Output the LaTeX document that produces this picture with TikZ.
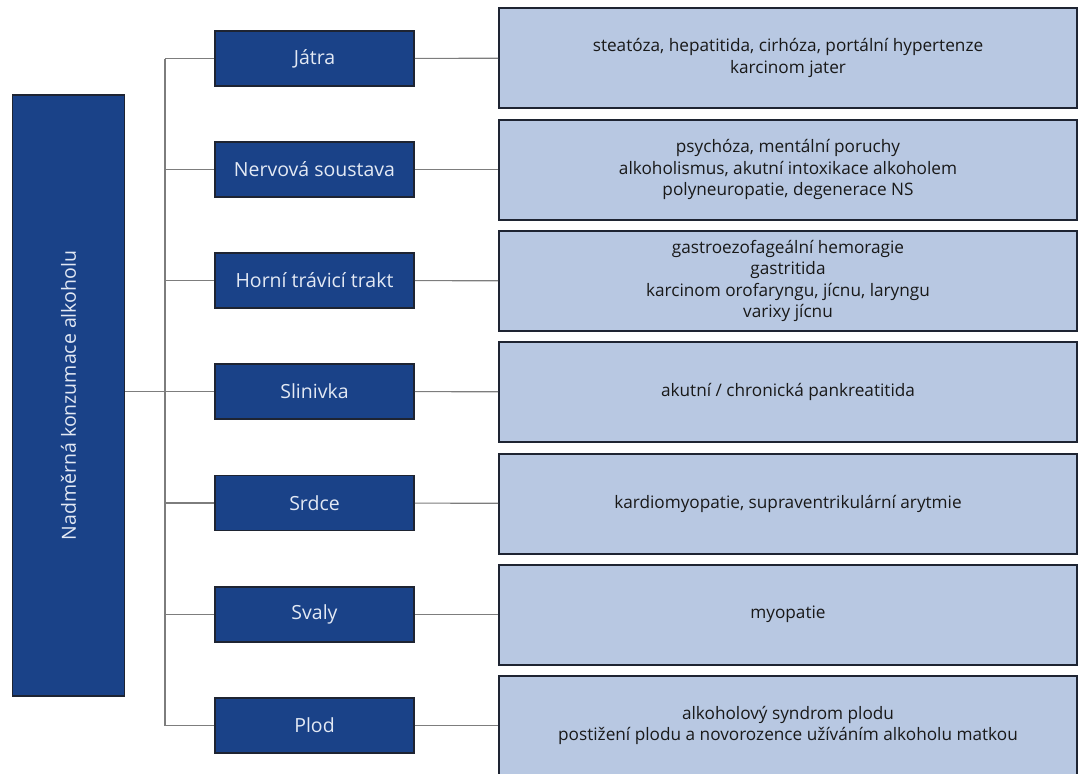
\documentclass[tikz,border=0pt]{standalone}
\usepackage{fontspec}
\setmainfont{Open Sans}
\definecolor{organblue}{RGB}{26,66,136}
\definecolor{illblue}{RGB}{184,200,226}
\definecolor{frame}{RGB}{30,36,50}
\definecolor{wire}{RGB}{125,125,125}
\newcommand{\organ}[3]{\node[organbox] (#1) at (314.5,#2) {#3};}
\newcommand{\ill}[3]{\node[illbox] (#1) at (788,#2) {#3};}

\begin{document}
\begin{tikzpicture}[x=1pt, y=-1pt,
  organbox/.style={draw=frame, line width=1.6pt, fill=organblue, text=illblue!40!white,
    minimum width=199pt, minimum height=55pt, inner sep=0pt, font=\fontsize{19.5}{22}\selectfont},
  illbox/.style={draw=frame, line width=2pt, fill=illblue, text=black!90,
    minimum width=578pt, minimum height=100pt, inner sep=0pt, align=center,
    font=\fontsize{17.2}{21.2}\selectfont},
  wire/.style={draw=wire, line width=1.2pt}]
\useasboundingbox (0,0) rectangle (1080,774);
\node[draw=frame, line width=1.6pt, fill=organblue, text=illblue!40!white, rotate=90,
  minimum width=601pt, minimum height=112pt, inner sep=0pt,
  font=\fontsize{19.5}{22}\selectfont] (root) at (68.5,395.5) {Nadměrná konzumace alkoholu};
\organ{jatra}{58.5}{Játra}
\organ{nerv}{169.5}{Nervová soustava}
\organ{trakt}{280.5}{Horní trávicí trakt}
\organ{slin}{391.5}{Slinivka}
\organ{srdce}{503}{Srdce}
\organ{svaly}{614.5}{Svaly}
\organ{plod}{725.5}{Plod}
\ill{jatraD}{58}{steatóza, hepatitida, cirhóza, portální hypertenze\\karcinom jater}
\ill{nervD}{169.5}{psychóza, mentální poruchy\\alkoholismus, akutní intoxikace alkoholem\\polyneuropatie, degenerace NS}
\ill{traktD}{281}{gastroezofageální hemoragie\\gastritida\\karcinom orofaryngu, jícnu, laryngu\\varixy jícnu}
\ill{slinD}{392}{akutní / chronická pankreatitida}
\ill{srdceD}{503.5}{kardiomyopatie, supraventrikulární arytmie}
\ill{svalyD}{614.5}{myopatie}
\ill{plodD}{725.5}{alkoholový syndrom plodu\\postižení plodu a novorozence užíváním alkoholu matkou}
% trunk
\coordinate (top) at (165,58.5);
\coordinate (bot) at (165,725.5);
\draw[wire] (top) -- (bot);
\draw[wire] (root.south |- slin.west) -- (slin.west -| top);
\draw[wire] (jatra.west) -- (jatra.west -| top);
\draw[wire] (nerv.west) -- (nerv.west -| top);
\draw[wire] (trakt.west) -- (trakt.west -| top);
\draw[wire] (slin.west) -- (slin.west -| top);
\draw[wire] (srdce.west) -- (srdce.west -| top);
\draw[wire] (svaly.west) -- (svaly.west -| top);
\draw[wire] (plod.west) -- (plod.west -| top);
% organ to illness
\draw[wire] (jatra) -- (jatraD);
\draw[wire] (nerv) -- (nervD);
\draw[wire] (trakt) -- (traktD);
\draw[wire] (slin) -- (slinD);
\draw[wire] (srdce) -- (srdceD);
\draw[wire] (svaly) -- (svalyD);
\draw[wire] (plod) -- (plodD);
\end{tikzpicture}
\end{document}
